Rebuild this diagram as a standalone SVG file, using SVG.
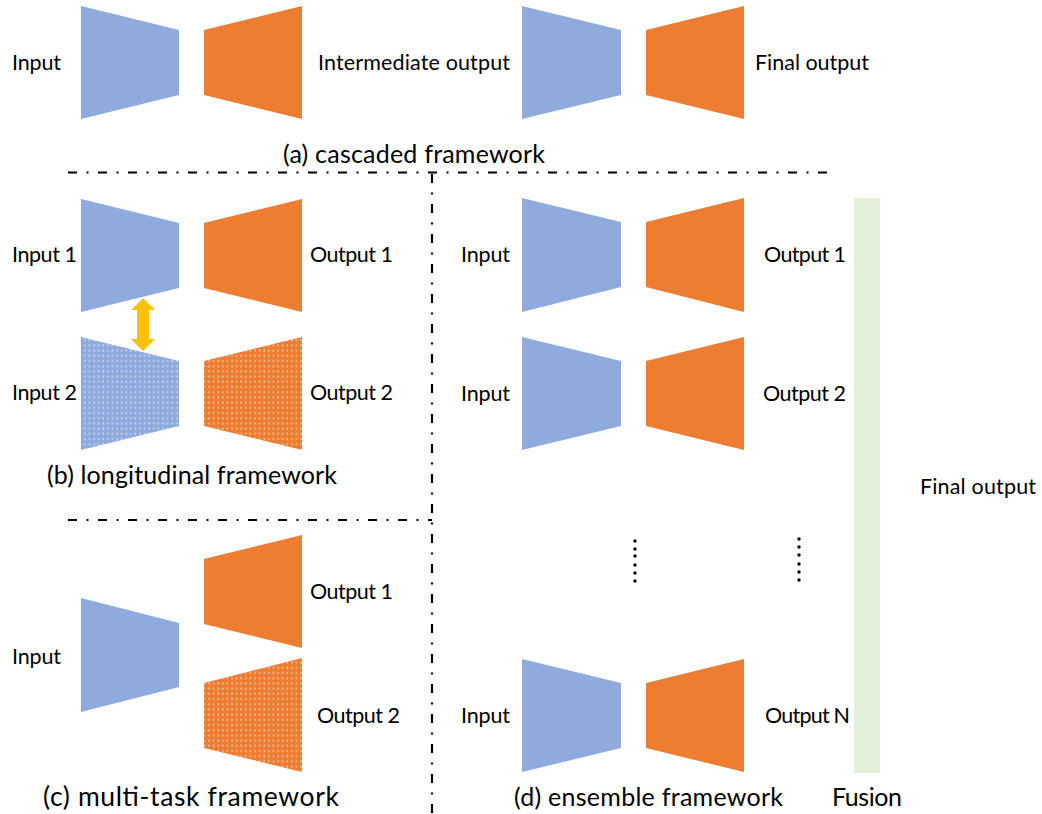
<svg xmlns="http://www.w3.org/2000/svg" width="1042" height="814" viewBox="0 0 1042 814">
  <defs>
    <style>
      .enc { fill: #8FAADC; }
      .dec { fill: #ED7D31; }
      .lbl { font-family: "Lato", "Open Sans", "Liberation Sans", sans-serif; font-size: 21.5px; fill: #000; }
      .cap { font-family: "Lato", "Open Sans", "Liberation Sans", sans-serif; font-size: 25px; fill: #000; }
      .sep { stroke: #000; stroke-width: 2.2; fill: none; stroke-dasharray: 9 9.5 2 9.5; }
      .dot { fill: #000; }
    </style>
    <pattern id="dotsBlue" patternUnits="userSpaceOnUse" width="4.6" height="5.2">
      <rect width="4.6" height="5.2" fill="#8FAADC"/>
      <rect x="1.5" y="1.2" width="1" height="2" fill="#fff" opacity="0.8"/>
    </pattern>
    <pattern id="dotsOrange" patternUnits="userSpaceOnUse" width="4.6" height="5.2">
      <rect width="4.6" height="5.2" fill="#ED7D31"/>
      <rect x="1.5" y="1.2" width="1" height="2" fill="#fff" opacity="0.8"/>
    </pattern>
  </defs>

  <!-- separators -->
  <g id="separators">
    <line class="sep" x1="68" y1="172.5" x2="832" y2="172.5"/>
    <line class="sep" x1="68" y1="520" x2="432" y2="520"/>
    <line class="sep" x1="432" y1="174" x2="432" y2="814"/>
  </g>

  <!-- (a) cascaded framework -->
  <g id="a-cascaded">
    <text class="lbl" x="12" y="70" textLength="49">Input</text>
    <polygon class="enc" points="81,6 179,30 179,95 81,119"/>
    <polygon class="dec" points="204,30 302,6 302,119 204,95"/>
    <text class="lbl" x="318" y="70" textLength="192">Intermediate output</text>
    <polygon class="enc" points="522,6 621,30 621,95 522,119"/>
    <polygon class="dec" points="646,30 744,6 744,119 646,95"/>
    <text class="lbl" x="755" y="70" textLength="114">Final output</text>
    <text class="cap" x="283" y="163" textLength="262">(a) cascaded framework</text>
  </g>

  <!-- (b) longitudinal framework -->
  <g id="b-longitudinal">
    <text class="lbl" x="12" y="262" textLength="65">Input 1</text>
    <polygon class="enc" points="81,199 179,223 179,288 81,312"/>
    <polygon class="dec" points="204,223 302,199 302,312 204,288"/>
    <text class="lbl" x="310" y="262" textLength="83">Output 1</text>
    <text class="lbl" x="12" y="400" textLength="65">Input 2</text>
    <polygon fill="url(#dotsBlue)" points="81,337 179,361 179,426 81,450"/>
    <polygon fill="url(#dotsOrange)" points="204,361 302,337 302,450 204,426"/>
    <text class="lbl" x="310" y="400" textLength="83">Output 2</text>
    <polygon fill="#FFC000" points="143,298 155,310 149,310 149,339 155,339 143,351 131,339 137,339 137,310 131,310"/>
    <text class="cap" x="47" y="484" textLength="290">(b) longitudinal framework</text>
  </g>

  <!-- (c) multi-task framework -->
  <g id="c-multitask">
    <text class="lbl" x="12" y="664" textLength="49">Input</text>
    <polygon class="enc" points="81,598 179,623 179,687 81,712"/>
    <polygon class="dec" points="204,559 302,535 302,648 204,624"/>
    <text class="lbl" x="310" y="599" textLength="83">Output 1</text>
    <polygon fill="url(#dotsOrange)" points="204,683 302,658 302,772 204,748"/>
    <text class="lbl" x="317" y="723" textLength="83">Output 2</text>
    <text class="cap" x="43" y="806" textLength="296" style="font-size:26.5px">(c) multi-task framework</text>
  </g>

  <!-- (d) ensemble framework -->
  <g id="d-ensemble">
    <text class="lbl" x="461" y="262" textLength="49">Input</text>
    <polygon class="enc" points="522,198 621,222 621,287 522,312"/>
    <polygon class="dec" points="646,222 744,198 744,312 646,287"/>
    <text class="lbl" x="764" y="262" textLength="82">Output 1</text>
    <text class="lbl" x="461" y="401" textLength="49">Input</text>
    <polygon class="enc" points="522,337 621,361 621,426 522,450"/>
    <polygon class="dec" points="646,361 744,337 744,450 646,426"/>
    <text class="lbl" x="763" y="401" textLength="83">Output 2</text>
    <g id="ellipsis">
      <circle class="dot" cx="635" cy="541" r="1.7"/>
      <circle class="dot" cx="635" cy="549" r="1.7"/>
      <circle class="dot" cx="635" cy="556" r="1.7"/>
      <circle class="dot" cx="635" cy="565" r="1.7"/>
      <circle class="dot" cx="635" cy="573" r="1.7"/>
      <circle class="dot" cx="635" cy="581" r="1.7"/>
      <circle class="dot" cx="799" cy="539" r="1.7"/>
      <circle class="dot" cx="799" cy="547" r="1.7"/>
      <circle class="dot" cx="799" cy="555" r="1.7"/>
      <circle class="dot" cx="799" cy="564" r="1.7"/>
      <circle class="dot" cx="799" cy="572" r="1.7"/>
      <circle class="dot" cx="799" cy="580" r="1.7"/>
    </g>
    <text class="lbl" x="461" y="723" textLength="49">Input</text>
    <polygon class="enc" points="522,659 621,683 621,748 522,772"/>
    <polygon class="dec" points="646,683 744,659 744,772 646,748"/>
    <text class="lbl" x="765" y="723" textLength="85">Output N</text>
    <text class="cap" x="514" y="806" textLength="269">(d) ensemble framework</text>
  </g>

  <!-- fusion -->
  <g id="fusion">
    <rect x="854" y="198" width="26" height="575" fill="#E2F0D9"/>
    <text class="cap" x="832" y="806" textLength="70">Fusion</text>
    <text class="lbl" x="920" y="494" textLength="116">Final output</text>
  </g>
</svg>
